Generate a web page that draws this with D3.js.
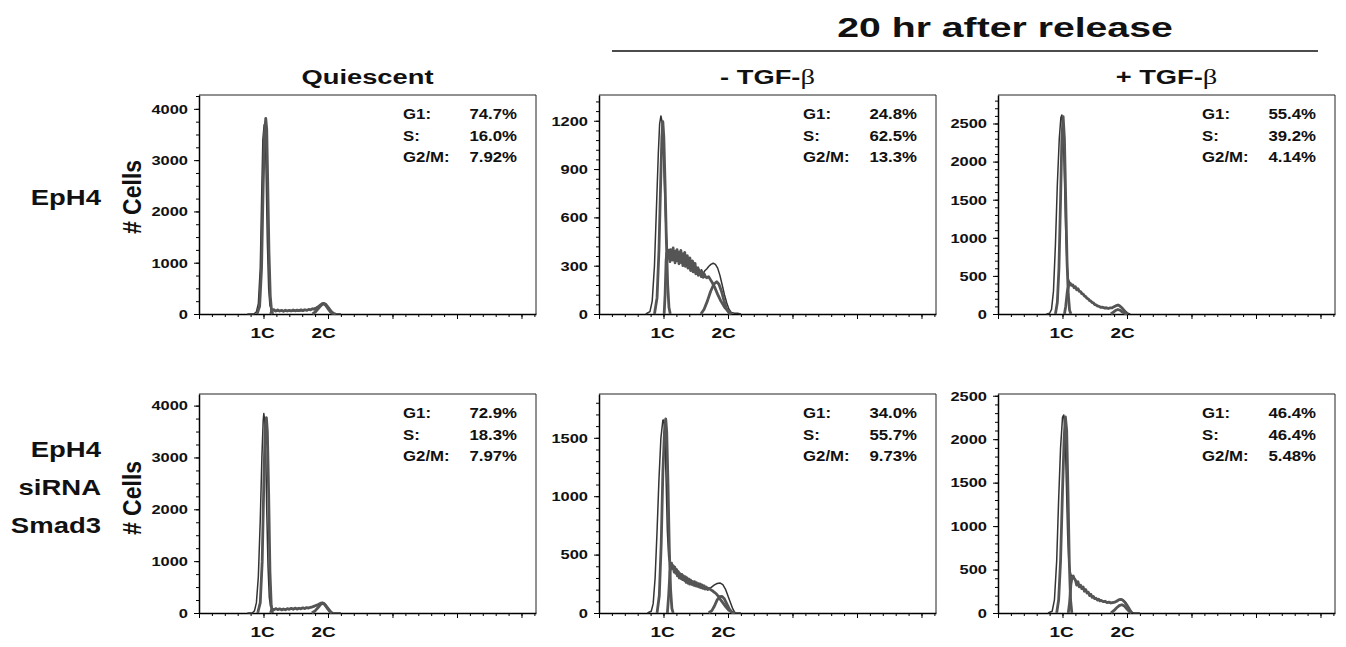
<!DOCTYPE html>
<html>
<head>
<meta charset="utf-8">
<script src="https://cdn.jsdelivr.net/npm/d3@7"></script>
<style>
  body { margin: 0; background: #fff; }
  svg text { font-family: "Liberation Sans", Arial, Helvetica, sans-serif; font-weight: bold; fill: #111; }
</style>
</head>
<body>
<script>
// ---------- data ----------
const groupTitle = "20 hr after release";
const columnTitles = ["Quiescent", "- TGF-", "+ TGF-"];
const columnBeta = ["", "β", "β"];
const rowLabels = [["EpH4"], ["EpH4", "siRNA", "Smad3"]];
const yLabel = "# Cells";
const phaseNames = ["G1:", "S:", "G2/M:"];
const dnaLabels = ["1C", "2C"];
const dnaLabelChannel = [197, 386];

// per panel: top row EpH4 (quiescent, -TGF, +TGF), bottom row EpH4 siRNA Smad3
const yMax = [4270, 1360, 2874, 4224, 1875, 2520];
const yMajorStep = [1000, 300, 500, 1000, 500, 500];
const yMinorStep = [250, 60, 100, 250, 100, 100];
const phaseValues = [
  ["74.7%", "16.0%", "7.92%"],
  ["24.8%", "62.5%", "13.3%"],
  ["55.4%", "39.2%", "4.14%"],
  ["72.9%", "18.3%", "7.97%"],
  ["34.0%", "55.7%", "9.73%"],
  ["46.4%", "46.4%", "5.48%"]
];

// [DNA channel, cell count]
const epQuiHist = [[150,0],[170,0],[178,40],[184,200],[190,900],[194,2200],[198,3400],[202,3690],[205,3650],[208,2800],[212,1400],[216,500],[220,160],[226,80],[236,60],[250,65],[270,55],[290,65],[310,60],[330,75],[350,95],[366,130],[376,175],[384,205],[390,200],[398,140],[406,70],[414,20],[422,0],[440,0]];
const epQuiG1 = [[180,0],[188,150],[194,900],[199,2500],[203,3500],[207,3815],[210,3600],[213,2600],[217,1200],[221,350],[225,60],[229,0]];
const epQuiS = [[222,0],[226,70],[232,85],[238,55],[244,78],[250,58],[256,72],[262,52],[268,75],[274,58],[280,72],[286,60],[292,78],[298,62],[304,74],[310,64],[316,82],[322,66],[328,84],[334,70],[340,90],[346,80],[352,102],[358,92],[364,118],[370,140],[376,172],[382,200],[388,208],[394,185],[400,135],[406,85],[412,38],[418,10],[424,0]];
const epQuiG2 = [[352,0],[362,45],[370,105],[378,165],[385,200],[392,175],[400,105],[408,38],[416,0]];

const epMinusHist = [[145,0],[158,15],[165,80],[172,300],[178,650],[184,1000],[188,1180],[192,1230],[195,1200],[199,1050],[203,800],[207,560],[211,420],[215,380],[219,400],[223,350],[228,390],[233,340],[238,395],[243,330],[248,380],[253,320],[258,370],[263,310],[268,360],[273,300],[278,345],[283,285],[288,330],[293,270],[298,310],[303,260],[308,290],[313,255],[318,275],[323,250],[328,268],[334,280],[340,295],[347,308],[354,315],[361,308],[368,285],[375,240],[382,180],[389,120],[396,70],[403,30],[410,10],[420,5],[432,4],[440,0]];
const epMinusG1 = [[172,0],[180,100],[186,400],[191,800],[195,1100],[198,1194],[201,1100],[205,800],[209,450],[213,180],[217,40],[221,0]];
const epMinusS = [[202,0],[205,120],[208,330],[210,380],[212,345],[214,395],[216,350],[218,372],[220,325],[222,400],[224,360],[226,388],[228,335],[230,410],[232,350],[234,372],[236,318],[238,390],[240,345],[242,400],[244,330],[246,365],[248,312],[250,385],[252,340],[254,395],[256,318],[258,352],[260,300],[262,375],[264,330],[266,382],[268,296],[270,345],[272,310],[274,362],[276,285],[278,335],[280,300],[282,348],[284,270],[286,318],[288,282],[290,330],[292,262],[294,305],[296,268],[298,315],[300,250],[302,290],[304,255],[306,285],[308,240],[310,272],[312,250],[314,268],[317,232],[320,262],[323,228],[326,250],[330,232],[334,225],[340,232],[346,212],[352,192],[360,160],[368,122],[378,80],[390,40],[402,15],[412,0]];
const epMinusG2 = [[316,0],[326,30],[336,80],[346,140],[356,185],[365,200],[372,185],[380,140],[388,80],[396,30],[404,5],[408,0]];

const epPlusHist = [[150,0],[160,10],[166,60],[172,300],[178,900],[184,1700],[190,2300],[195,2580],[198,2612],[202,2400],[206,1800],[210,1100],[214,650],[218,460],[222,410],[228,385],[234,360],[240,350],[246,325],[252,305],[258,285],[264,258],[270,232],[276,212],[282,190],[288,168],[294,150],[300,130],[306,115],[312,102],[320,92],[330,84],[340,78],[350,80],[358,92],[366,112],[372,120],[378,108],[386,78],[394,42],[402,12],[410,0]];
const epPlusG1 = [[178,0],[184,150],[189,600],[194,1500],[198,2300],[202,2590],[206,2300],[210,1500],[214,700],[218,250],[222,50],[226,0]];
const epPlusS = [[206,0],[210,100],[215,300],[220,390],[224,403],[228,375],[232,382],[236,345],[240,358],[244,318],[248,332],[252,296],[256,294],[260,266],[264,262],[268,236],[272,228],[276,206],[280,198],[284,176],[288,170],[292,148],[296,146],[300,124],[304,120],[308,104],[312,104],[318,88],[324,90],[330,78],[336,82],[342,72],[348,80],[354,80],[360,96],[366,108],[372,118],[378,104],[384,82],[390,50],[396,22],[403,0]];
const epPlusG2 = [[350,0],[358,25],[366,50],[372,60],[378,50],[386,25],[394,5],[400,0]];

const siQuiHist = [[150,0],[165,0],[172,40],[178,200],[184,700],[190,1800],[195,3000],[199,3700],[201,3848],[204,3700],[207,3100],[210,2000],[214,900],[218,300],[222,120],[228,80],[240,70],[260,75],[280,80],[300,85],[320,90],[340,100],[356,120],[368,155],[378,185],[384,195],[390,170],[398,100],[406,30],[414,0],[440,0]];
const siQuiG1 = [[182,0],[190,200],[196,1000],[201,2500],[205,3500],[209,3770],[212,3500],[216,2300],[220,800],[224,150],[228,0]];
const siQuiS = [[222,0],[226,80],[232,60],[238,85],[244,65],[250,80],[256,60],[262,78],[268,62],[274,85],[280,70],[286,90],[292,72],[298,95],[304,75],[310,92],[316,80],[322,100],[328,85],[334,105],[340,95],[346,110],[352,120],[358,135],[364,150],[370,165],[376,185],[382,195],[388,180],[394,140],[400,90],[406,40],[412,0]];
const siQuiG2 = [[350,0],[360,40],[370,110],[378,170],[384,190],[390,160],[398,90],[406,25],[412,0]];

const siMinusHist = [[150,0],[162,15],[168,80],[174,300],[180,700],[186,1150],[192,1500],[198,1650],[201,1653],[204,1550],[208,1150],[212,700],[216,480],[220,430],[226,400],[232,385],[238,360],[244,345],[250,330],[256,315],[262,305],[268,295],[274,285],[280,275],[286,265],[292,258],[298,250],[304,245],[310,238],[316,230],[322,225],[328,220],[334,215],[340,212],[346,215],[352,228],[358,240],[364,250],[370,255],[376,256],[384,242],[392,205],[400,145],[408,85],[415,35],[422,0],[440,0]];
const siMinusG1 = [[180,0],[187,150],[193,600],[198,1200],[203,1550],[207,1661],[210,1550],[214,1100],[218,550],[222,200],[226,40],[230,0]];
const siMinusS = [[212,0],[216,150],[220,350],[225,427],[228,380],[230,405],[233,350],[235,392],[238,340],[241,372],[243,318],[246,355],[249,300],[251,338],[254,295],[257,330],[259,286],[262,318],[265,278],[268,310],[270,262],[273,300],[276,255],[279,290],[281,248],[284,282],[287,245],[290,270],[293,238],[296,268],[299,232],[302,260],[305,228],[308,252],[311,222],[314,248],[317,215],[320,240],[323,210],[326,232],[329,205],[333,222],[337,200],[341,212],[347,198],[353,188],[359,175],[365,160],[371,140],[378,110],[386,80],[394,50],[402,25],[412,8],[422,0]];
const siMinusG2 = [[340,0],[350,20],[358,60],[366,110],[374,140],[381,143],[388,125],[396,80],[404,35],[412,8],[418,0]];

const siPlusHist = [[155,0],[168,20],[175,150],[182,600],[188,1300],[194,1900],[200,2250],[204,2279],[208,2100],[212,1500],[216,900],[220,560],[226,440],[232,415],[238,385],[244,345],[250,325],[256,305],[262,290],[268,268],[274,250],[280,235],[286,212],[292,192],[298,180],[304,168],[310,155],[316,146],[322,138],[330,130],[338,124],[346,120],[354,122],[362,128],[370,140],[378,152],[384,156],[390,145],[396,118],[402,82],[408,45],[414,12],[420,0],[440,0]];
const siPlusG1 = [[182,0],[188,150],[194,600],[200,1400],[205,2000],[209,2256],[213,2100],[217,1400],[221,600],[225,150],[229,0]];
const siPlusS = [[218,0],[222,120],[226,330],[230,410],[233,427],[236,400],[240,380],[244,320],[248,360],[252,300],[256,320],[260,280],[264,300],[268,250],[272,270],[276,230],[280,240],[284,200],[288,215],[292,180],[296,190],[300,165],[304,170],[308,150],[312,160],[316,140],[320,145],[326,130],[332,135],[338,120],[344,125],[350,115],[356,120],[362,125],[368,135],[374,150],[380,156],[386,150],[392,130],[398,100],[404,65],[410,30],[415,0]];
const siPlusG2 = [[350,0],[360,30],[368,60],[376,85],[384,95],[392,80],[400,45],[408,15],[414,0]];

const histSeries = [epQuiHist, epMinusHist, epPlusHist, siQuiHist, siMinusHist, siPlusHist];
const g1Series = [epQuiG1, epMinusG1, epPlusG1, siQuiG1, siMinusG1, siPlusG1];
const sSeries = [epQuiS, epMinusS, epPlusS, siQuiS, siMinusS, siPlusS];
const g2Series = [epQuiG2, epMinusG2, epPlusG2, siQuiG2, siMinusG2, siPlusG2];

// ---------- layout ----------
const W = 1346, H = 647;
const channelMax = 1045;
const colX = [199, 599, 998];
const rowTop = [95, 394];
const plotW = 337, plotH = 219;
const SX = 1.22; // the figure's lettering is a bit wide

const svg = d3.select("body").append("svg")
  .attr("width", W).attr("height", H);

function label(parent, x, y, str, size, anchor, sx) {
  return parent.append("text")
    .attr("transform", "translate(" + x + "," + y + ") scale(" + (sx || SX) + ",1)")
    .attr("text-anchor", anchor || "start")
    .style("font-size", size + "px")
    .text(str);
}

// header
label(svg, 1005, 37, groupTitle, 28, "middle", 1.4);
svg.append("line")
  .attr("x1", 612).attr("x2", 1318).attr("y1", 51).attr("y2", 51)
  .attr("stroke", "#111").attr("stroke-width", 1.5);

columnTitles.forEach(function (t, i) {
  const cx = colX[i] + plotW / 2;
  const txt = svg.append("text")
    .attr("transform", "translate(" + cx + ",84) scale(1.3,1)")
    .attr("text-anchor", "middle")
    .style("font-size", "21px");
  txt.append("tspan").text(t);
  if (columnBeta[i]) {
    txt.append("tspan")
      .style("font-family", "'Liberation Serif', 'Times New Roman', serif")
      .style("font-weight", "normal")
      .style("font-size", "22px")
      .text(columnBeta[i]);
  }
});

// row labels + y titles
const rowLabelY = [[205], [457, 495, 533]];
const yTitleY = [197, 498];
rowLabels.forEach(function (lines, r) {
  lines.forEach(function (l, k) {
    label(svg, 101, rowLabelY[r][k], l, 22, "end", 1.25);
  });
  svg.append("text")
    .attr("transform", "translate(141," + yTitleY[r] + ") scale(1.15,1) rotate(-90)")
    .attr("text-anchor", "middle")
    .style("font-size", "23px")
    .text(yLabel);
});

// panels
for (let p = 0; p < 6; p++) {
  const r = Math.floor(p / 3), c = p % 3;
  const g = svg.append("g")
    .attr("transform", "translate(" + colX[c] + "," + rowTop[r] + ")");

  const x = d3.scaleLinear().domain([0, channelMax]).range([0, plotW]);
  const y = d3.scaleLinear().domain([0, yMax[p]]).range([plotH, 0]);

  // frame top / right
  g.append("path")
    .attr("d", "M0,0H" + plotW + "V" + plotH)
    .attr("fill", "none").attr("stroke", "#222").attr("stroke-width", 1);

  // minor ticks
  g.append("g")
    .call(d3.axisLeft(y).tickValues(d3.range(0, yMax[p] + 1, yMinorStep[p]))
      .tickSize(3).tickFormat("").tickSizeOuter(0))
    .call(s => s.select(".domain").remove());
  g.append("g").attr("transform", "translate(0," + plotH + ")")
    .call(d3.axisBottom(x).tickValues(d3.range(0, channelMax + 1, 40))
      .tickSize(3).tickFormat("").tickSizeOuter(0))
    .call(s => s.select(".domain").remove());

  // major y axis
  const ya = g.append("g")
    .call(d3.axisLeft(y).tickValues(d3.range(0, yMax[p] + 1, yMajorStep[p]))
      .tickSize(5).tickFormat(d3.format("d")).tickSizeOuter(0));
  ya.select(".domain").attr("stroke-width", 1.5);
  ya.selectAll(".tick text")
    .attr("x", -11 / SX)
    .attr("transform", "scale(" + SX + ",1)")
    .style("font-size", "13.5px")
    .style("font-family", "'Liberation Sans', Arial, sans-serif")
    .style("font-weight", "bold");

  // major x axis
  const xa = g.append("g").attr("transform", "translate(0," + plotH + ")")
    .call(d3.axisBottom(x).tickValues(d3.range(0, channelMax + 1, 200))
      .tickSize(5).tickFormat("").tickSizeOuter(0));
  xa.select(".domain").attr("stroke-width", 1.5);

  dnaLabels.forEach(function (t, k) {
    label(g, x(dnaLabelChannel[k]), plotH + 24, t, 15.5, "middle");
  });

  // curves: measured histogram underneath, fitted components on top
  const line = d3.line().x(d => x(d[0])).y(d => y(d[1]));
  g.append("path").datum(histSeries[p]).attr("d", line)
    .attr("fill", "none").attr("stroke", "#333")
    .attr("stroke-width", 1.5).attr("stroke-linejoin", "round");
  [g1Series[p], sSeries[p], g2Series[p]].forEach(function (s) {
    g.append("path").datum(s).attr("d", line)
      .attr("fill", "none").attr("stroke", "#555")
      .attr("stroke-width", 2.8).attr("stroke-linejoin", "round");
  });

  // phase percentages
  phaseNames.forEach(function (n, k) {
    const yy = 24 + k * 21.5;
    label(g, 204, yy, n, 14, "start", 1.2);
    label(g, 318, yy, phaseValues[p][k], 14, "end", 1.2);
  });
}
</script>
</body>
</html>
